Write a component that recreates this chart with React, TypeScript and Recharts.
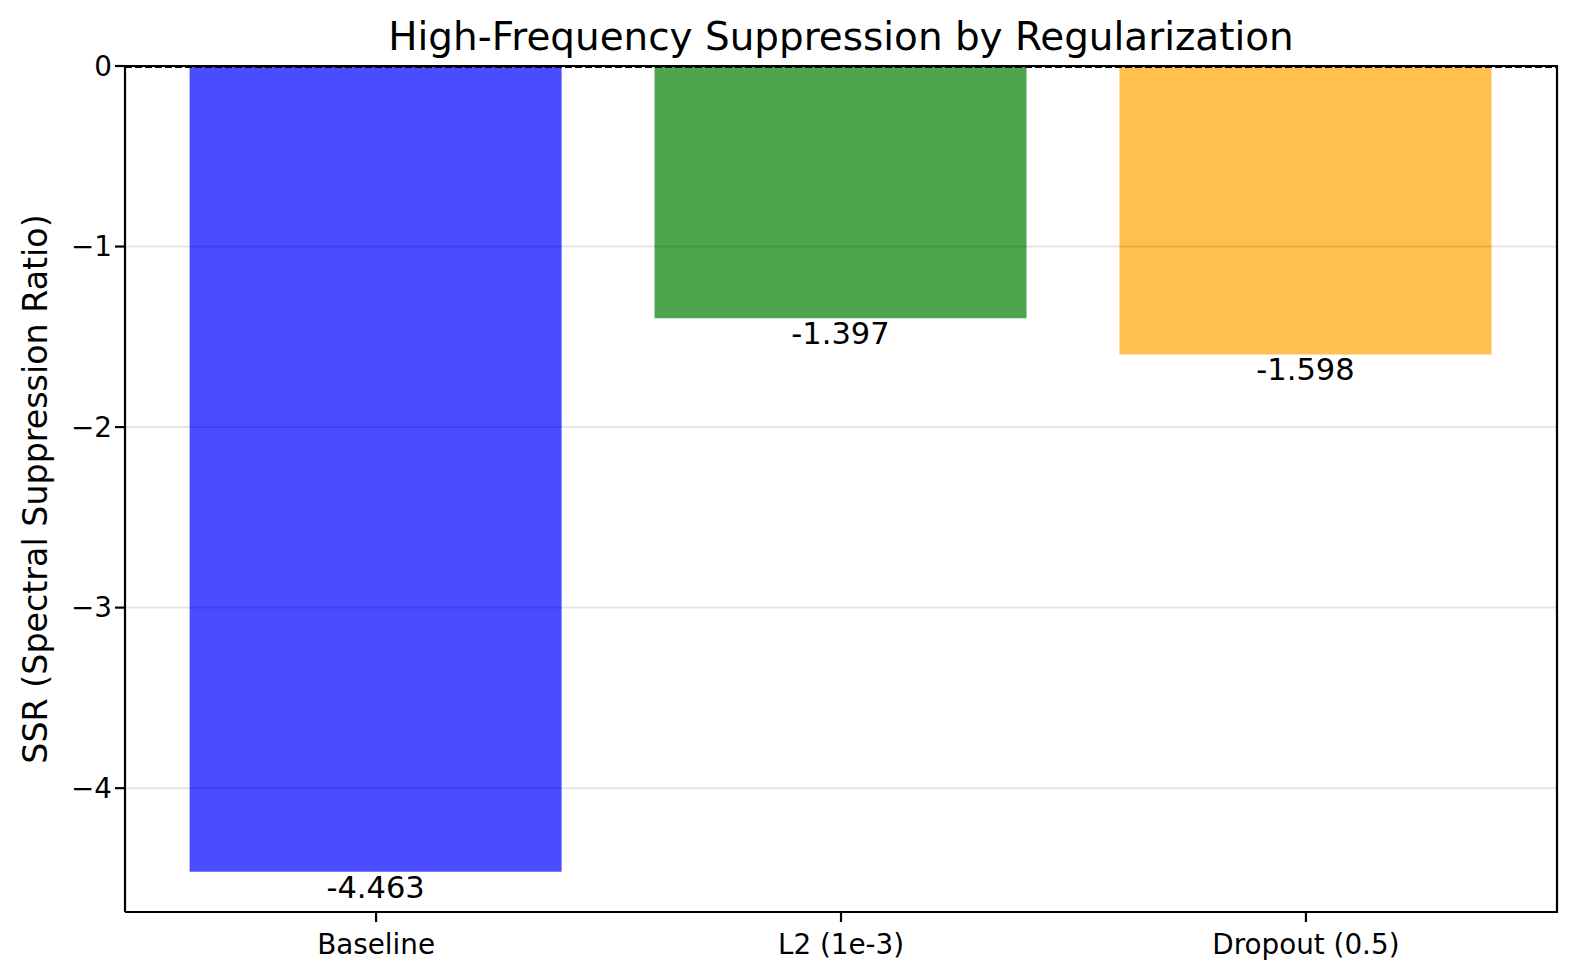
import React from "react";
import {
  BarChart,
  Bar,
  Cell,
  XAxis,
  YAxis,
  ReferenceLine,
  LabelList,
} from "recharts";

const categories = ["Baseline", "L2 (1e-3)", "Dropout (0.5)"];
const ssrValues = [-4.463, -1.397, -1.598];
const barColors = ["#4b4bff", "#4da64d", "#ffc04d"];
const yTicks = [0, -1, -2, -3, -4];
const gridTicks = [-1, -2, -3, -4];

const data = categories.map((name, i) => ({ name, ssr: ssrValues[i] }));

const FONT = "'DejaVu Sans', sans-serif";

const W = 1577;
const H = 980;
// plot box, pixels
const PLOT = { left: 125, right: 1557, top: 66, bottom: 912 };

const fmtTick = (v: number) => (v === 0 ? "0" : `\u2212${Math.abs(v)}`);

const ValueLabel = (props: any) => {
  const { x, y, width, height, value } = props;
  const bottom = Math.max(y, y + height);
  return (
    <text
      x={x + width / 2}
      y={bottom + 26}
      textAnchor="middle"
      fontSize={30.5}
      fontFamily={FONT}
      fill="#000"
    >
      {value.toFixed(3)}
    </text>
  );
};

export default function App() {
  const yAxisWidth = 60;
  return (
    <div style={{ position: "absolute", left: 0, top: 0, width: W, height: H, background: "#fff" }}>
      <BarChart
        width={W}
        height={H}
        data={data}
        margin={{
          top: PLOT.top,
          right: W - PLOT.right,
          left: PLOT.left - yAxisWidth,
          bottom: H - PLOT.bottom - 60,
        }}
      >
        <XAxis
          dataKey="name"
          height={60}
          padding={{ left: 18.6, right: 18.6 }}
          stroke="#000"
          strokeWidth={2.2}
          tickSize={10}
          tickMargin={12}
          tick={{ fill: "#000", fontSize: 27.8, fontFamily: FONT }}
        />
        <YAxis
          width={yAxisWidth}
          domain={[-4.686, 0]}
          ticks={yTicks}
          allowDataOverflow
          stroke="#000"
          strokeWidth={2.2}
          tickSize={10}
          tickMargin={3}
          tickFormatter={fmtTick}
          tick={{ fill: "#000", fontSize: 27.8, fontFamily: FONT }}
        />
        <Bar dataKey="ssr" barSize={372} isAnimationActive={false}>
          {data.map((d, i) => (
            <Cell key={d.name} fill={barColors[i]} />
          ))}
          <LabelList dataKey="ssr" content={<ValueLabel />} />
        </Bar>
        {gridTicks.map((t) => (
          <ReferenceLine key={t} y={t} stroke="#000" strokeOpacity={0.1} strokeWidth={2} />
        ))}
        <ReferenceLine y={0} stroke="#000" strokeWidth={2.2} />
        <ReferenceLine y={-0.006} stroke="#000" strokeWidth={2} strokeDasharray="7 3" />
      </BarChart>
      <svg
        width={W}
        height={H}
        style={{ position: "absolute", left: 0, top: 0, pointerEvents: "none" }}
      >
        {/* right spine */}
        <line
          x1={PLOT.right}
          x2={PLOT.right}
          y1={PLOT.top - 1.1}
          y2={PLOT.bottom + 1.1}
          stroke="#000"
          strokeWidth={2.2}
        />
        <text
          x={(PLOT.left + PLOT.right) / 2}
          y={50}
          textAnchor="middle"
          fontSize={38.9}
          fontFamily={FONT}
          fill="#000"
        >
          High-Frequency Suppression by Regularization
        </text>
        <text
          x={47}
          y={(PLOT.top + PLOT.bottom) / 2}
          transform={`rotate(-90, 47, ${(PLOT.top + PLOT.bottom) / 2})`}
          textAnchor="middle"
          fontSize={33.3}
          fontFamily={FONT}
          fill="#000"
        >
          SSR (Spectral Suppression Ratio)
        </text>
      </svg>
    </div>
  );
}
